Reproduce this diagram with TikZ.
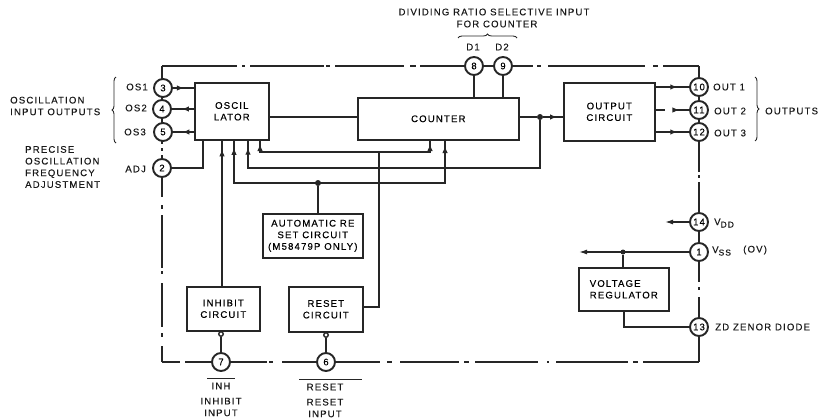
\documentclass[tikz,border=0pt]{standalone}
\usepackage{fontspec}
\setmainfont[LetterSpace=12,FakeBold=0.25]{Liberation Sans}
\usetikzlibrary{arrows.meta,decorations.pathreplacing,decorations.markings,calc}
\tikzset{
  wire/.style={line width=1.35pt,black!85},
  frameline/.style={line width=1.15pt,black!85},
  block/.style={draw=black!85,line width=1.6pt,align=center,font=\fontsize{9.6}{11.6}\selectfont,inner sep=0pt,anchor=north west},
  pin/.style={circle,draw=black!85,line width=1.9pt,fill=white,minimum size=18pt,inner sep=0pt,font=\fontsize{9.5}{10}\selectfont},
  lab/.style={font=\fontsize{9.6}{11.7}\selectfont,align=center,inner sep=0pt,text=black!90},
  labl/.style={lab,align=left,anchor=west},
  headat/.style={postaction={decorate},decoration={markings,mark=at position #1 with {\arrow{Latex[length=7pt,width=5.5pt]}}}},
  headtip/.style={-{Latex[length=7pt,width=5.5pt]}},
  endtip/.style={-{Latex[length=8pt,width=5pt]}},
  dot/.style={circle,fill=black!85,inner sep=0pt,minimum size=6pt},
  ring/.style={circle,draw=black!85,line width=1.4pt,fill=white,inner sep=0pt,minimum size=4.5pt},
  brace/.style={draw=black!85,line width=0.9pt,decorate,decoration={brace,amplitude=4pt}}
}
\newcommand{\blk}[6]{\node[block,minimum width=#4pt,minimum height=#5pt] (#1) at (#2,#3) {#6};}
\begin{document}
\begin{tikzpicture}[x=1pt,y=-1pt]
\useasboundingbox (0,0) rectangle (818,418);
% frame
\foreach \a/\b in {162/237,242/245,250/324,326/330,335/404,410/416,420/533,537/541,548/645,653/658,663/699}
  \draw[frameline] (\a,66) -- (\b,66);
\foreach \a/\b in {66/172,175/178,182/282,287/290,297/362}
  \draw[frameline] (699,\a) -- (699,\b);
\foreach \a/\b in {643/699,633/638,556/628,547/549,475/538,464/469,400/459,387/392,282/380,269/273,185/267,162/180}
  \draw[frameline] (\a,362) -- (\b,362);
\foreach \a/\b in {66/144,148/151,155/197,205/209,215/268,271/274,283/327,333/337,346/362}
  \draw[frameline] (162,\a) -- (162,\b);
% blocks
\blk{osc}{194}{82}{74}{57}{OSCIL\\LATOR}
\blk{cnt}{357}{97}{161}{42}{COUNTER}
\blk{outc}{563}{82}{91}{58}{OUTPUT\\CIRCUIT}
\blk{aut}{262}{213}{100}{44}{AUTOMATIC RE\\SET CIRCUIT\\(M58479P ONLY)}
\blk{inh}{186}{286}{73}{44}{INHIBIT\\CIRCUIT}
\blk{rst}{288}{286}{74}{45}{RESET\\CIRCUIT}
\node[block,minimum width=90pt,minimum height=43pt,align=left] (vreg) at (578,267) {VOLTAGE\\REGULATOR};
% pins
\foreach \n/\t/\px/\py in {p3/3/163/88,p4/4/162/109,p5/5/163/132,p2/2/162/168,p8/8/474/66,p9/9/503/66,p10/10/699/87,p11/11/699/110,p12/12/699/132,p14/14/699/222,p1/1/699/252,p13/13/699/327,p7/7/221/362,p6/6/326/362}
  \node[pin] (\n) at (\px,\py) {\t};
% oscillator pins
\draw[wire,headat=0.52] (p3) -- (osc.west |- p3);
\draw[wire,headat=0.55] (osc.west |- p4) -- (p4);
\draw[wire,headat=0.55] (osc.west |- p5) -- (p5);
\draw[wire] (p2) -| (203,139);
\coordinate (oscA) at (222,139);
\draw[wire,headat=0.93] (inh.north -| oscA) -- (oscA);
\draw[wire] (osc.east |- 0,117) -- (cnt.west |- 0,117);
% buses
\node[dot] (ja) at (318,183) {};
\node[dot] (jb) at (540,117) {};
\coordinate (c1) at (430,139);
\coordinate (c2) at (445,139);
\coordinate (h1) at (260,144);
\coordinate (h2) at (430,144);
\coordinate (h3) at (445,146);
\coordinate (h1b) at (260,152);
\coordinate (h2b) at (430,152);
\coordinate (h3b) at (445,156);
\draw[wire] (c2) -- (445,183) -- (234,183) -- (234,139);
\draw[wire,headtip] (h3b) -- (h3);
\draw[wire,headat=0.8] (234,183) -- (234,139);
\draw[wire] (jb) -- (540,168) -- (248,168) -- (248,139);
\draw[wire,headat=0.7] (248,168) -- (248,139);
\draw[wire] (260,139) -- (h1b) -- (h2b) -- (c1);
\draw[wire,headtip] (h1b) -- (h1);
\draw[wire,headtip] (h2b) -- (h2);
\draw[wire] (rst.east |- 0,307) -| (379,152);
\draw[wire] (aut.north -| ja) -- (ja);
% counter to output
\draw[wire] (cnt.east |- jb) -- (jb);
\draw[wire,headat=0.7] (jb) -- (outc.west |- jb);
\draw[wire] (p8) -- (cnt.north -| p8);
\draw[wire] (p9) -- (cnt.north -| p9);
% outputs
\draw[wire,headat=0.65] (outc.east |- p10) -- (p10);
\draw[wire,headat=0.65] (outc.east |- p12) -- (p12);
\coordinate (g1) at (665,110);
\coordinate (g2) at (673,110);
\draw[wire] (outc.east |- p11) -- (g1);
\draw[wire,headat=0.4] (g2) -- (p11);
% inhibit and reset
\node[ring] (ri) at (221,334) {};
\node[ring] (rr) at (326,335) {};
\draw[wire] (ri) -- (p7);
\draw[wire] (rr) -- (p6);
% power
\coordinate (vddend) at (665,222);
\coordinate (vssend) at (579,252);
\node[dot,minimum size=5pt] (jv) at (623,252) {};
\draw[wire,endtip] (p14) -- (vddend);
\draw[wire,endtip] (p1) -- (vssend);
\draw[wire] (jv) -- (vreg.north -| jv);
\draw[wire] (vreg.south -| 624,0) -- (624,327) -- (p13);
% labels
\node[lab] (t1) at (494,12) {DIVIDING RATIO SELECTIVE INPUT};
\node[lab] (t2) at (497,24) {FOR COUNTER};
\draw[brace] (458,38) -- (517,38);
\node[lab] (d1) at (473,47) {D1};
\node[lab] (d2) at (502,47) {D2};
\node[lab,anchor=east] (os1) at (148,87) {OS1};
\node[lab,anchor=east] (os2) at (147,108) {OS2};
\node[lab,anchor=east] (os3) at (146,132) {OS3};
\node[lab,anchor=east] (adj) at (146,169) {ADJ};
\node[labl] (oi) at (10,106) {OSCILLATION\\INPUT OUTPUTS};
\draw[brace] (116,143) -- (116,77);
\node[labl] (pf) at (25,167) {PRECISE\\OSCILLATION\\FREQUENCY\\ADJUSTMENT};
\node[labl] (o1) at (713,87) {OUT 1};
\node[labl] (o2) at (714,111) {OUT 2};
\node[labl] (o3) at (714,133) {OUT 3};
\draw[brace] (755,77) -- (755,141);
\node[labl] (ot) at (765,111) {OUTPUTS};
\node[labl] (vd) at (714,223) {V\textsubscript{\fontsize{8.5}{9}\selectfont DD}};
\node[labl] (vs) at (712,251) {V\textsubscript{\fontsize{8.5}{9}\selectfont SS}};
\node[labl] (ov) at (743,250) {(OV)};
\node[labl] (zd) at (715,327) {ZD ZENOR DIODE};
\draw[line width=0.9pt,black!85] (207,378) -- (235,378);
\draw[line width=0.9pt,black!85] (299,379) -- (362,379);
\node[lab] (inhl) at (221,386) {INH};
\node[lab] (rstl) at (325,387) {RESET};
\node[lab] (inhi) at (221,407) {INHIBIT\\INPUT};
\node[lab] (rsti) at (325,408) {RESET\\INPUT};
\end{tikzpicture}
\end{document}
